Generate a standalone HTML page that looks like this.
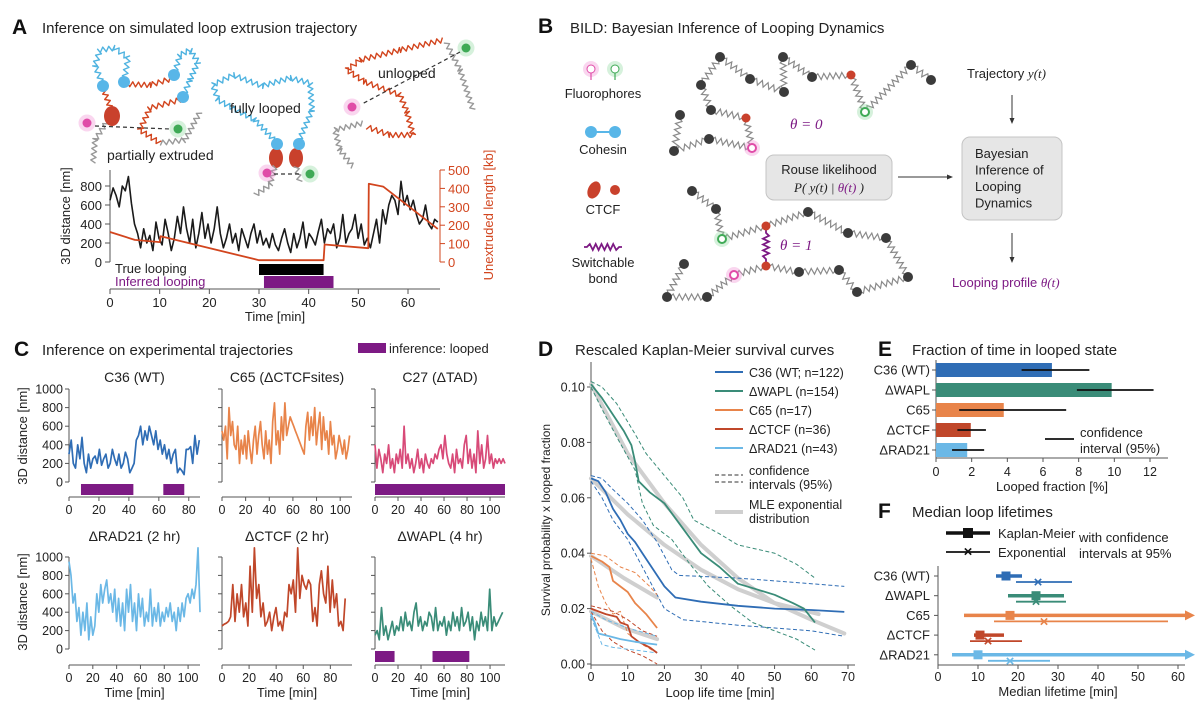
<!DOCTYPE html>
<html><head><meta charset="utf-8"><title>BILD figure</title>
<style>
html,body{margin:0;padding:0;background:#fff;}
svg{display:block;font-family:"Liberation Sans",Arial,sans-serif;}
</style></head>
<body>
<svg id="fig" width="1200" height="715" viewBox="0 0 1200 715" xmlns="http://www.w3.org/2000/svg">
<rect x="0" y="0" width="1200" height="715" fill="#fff"/>
</svg>
<script>
// ---------------- DATA ----------------
const aTmax = 66;
const aDist = [650,780,700,580,800,750,900,620,400,300,150,350,200,280,120,420,250,180,450,300,120,250,480,300,580,350,200,450,150,300,520,250,400,200,350,580,300,150,250,400,200,300,120,350,250,150,300,400,200,330,180,250,150,300,180,120,250,350,200,100,300,150,250,420,150,300,250,180,320,450,200,350,300,400,150,250,500,200,300,350,500,250,400,180,250,150,300,450,200,550,400,600,700,650,500,850,600,700,550,650,500,400,450,600,400,350,450,420];
const aUnextT = [0,5,10,10.2,30,43,43.2,52,52.1,55,66];
const aUnextV = [163,120,108,140,10,10,95,75,425,410,180];
const aTrueLoop = [30,43];
const aInferLoop = [31,45];
const aXTicks = [0,10,20,30,40,50,60];
const aYTicks = [0,200,400,600,800];
const aRTicks = [0,100,200,300,400,500];

const c36Vals = [300,450,200,150,400,250,480,200,100,300,150,250,280,200,350,180,250,300,150,200,350,250,180,300,150,200,320,250,100,150,200,450,500,600,400,550,450,600,500,400,550,350,450,300,400,250,350,200,300,350,100,150,120,80,350,350,380,200,500,300,450];
const c65Vals = [550,450,600,250,800,500,650,400,350,600,200,450,300,500,250,550,350,200,450,600,300,500,650,400,250,550,300,450,200,650,850,400,550,300,700,450,850,500,600,700,650,600,550,500,450,400,350,300,600,750,450,700,500,800,400,600,750,350,700,450,550,300,650,400,500,250,350,500,400,300,450,250,350,500];
const c27Vals = [400,150,350,250,100,300,200,400,150,250,100,300,200,350,150,600,200,300,150,250,100,200,350,150,250,100,300,200,150,250,200,300,250,350,400,250,500,300,200,150,300,100,350,200,250,150,400,500,200,350,150,300,100,550,200,400,150,250,500,200,300,150,250,200,250,200,250,200];
const rad21Vals = [950,800,500,600,300,450,150,400,200,500,100,350,150,250,600,400,700,500,650,750,500,600,400,650,300,550,250,500,200,650,400,700,300,500,200,600,350,550,250,400,300,650,250,450,300,500,250,400,300,450,350,500,300,400,200,450,300,500,350,550,600,500,650,550,700,1100,400];
const ctcfVals = [250,270,280,300,350,700,300,600,400,700,350,500,250,900,400,1100,550,700,350,500,250,300,400,200,350,450,250,300,200,400,350,700,600,750,400,1100,550,800,700,650,750,700,300,450,250,700,850,600,500,900,400,750,450,600,250,300,200,550];
const waplVals = [150,200,100,450,150,250,100,200,300,150,250,200,350,200,400,250,300,200,400,500,250,350,200,300,250,400,350,200,450,200,300,250,350,150,300,200,400,250,350,200,450,250,300,400,200,350,100,300,200,400,250,350,200,650,200,350,250,300,350,400];
const cDurations = [87, 108, 113, 110, 91, 111];
const c36Loops = [[8,43],[63,77]];
const c27Loops = [[0,113]];
const waplLoops = [[0,17],[50,82]];
const cYTicks = [0,200,400,600,800,1000];

const dC36 = [[0,0.067],[2,0.066],[4,0.062],[6,0.056],[8,0.052],[10,0.047],[12,0.044],[14,0.040],[16,0.036],[18,0.032],[20,0.028],[23,0.024],[30,0.0225],[40,0.021],[50,0.020],[60,0.0195],[69,0.0188]];
const dC36Up = [[0,0.068],[3,0.067],[6,0.063],[10,0.058],[14,0.052],[18,0.044],[22,0.034],[24,0.032],[40,0.031],[60,0.029],[69,0.028]];
const dC36Lo = [[0,0.066],[3,0.060],[6,0.052],[10,0.045],[14,0.035],[18,0.025],[20,0.020],[25,0.016],[40,0.014],[60,0.012],[69,0.010]];
const dWapl = [[0,0.101],[3,0.096],[6,0.090],[9,0.084],[11,0.079],[12,0.073],[13,0.066],[16,0.062],[20,0.058],[25,0.049],[30,0.040],[35,0.035],[40,0.029],[45,0.027],[50,0.025],[55,0.022],[58,0.020],[61,0.015]];
const dWaplUp = [[0,0.102],[3,0.100],[7,0.094],[12,0.083],[15,0.076],[20,0.068],[25,0.060],[28,0.052],[35,0.047],[40,0.043],[50,0.040],[56,0.036],[61,0.031]];
const dWaplLo = [[0,0.100],[3,0.092],[7,0.082],[12,0.070],[14,0.058],[17,0.050],[22,0.045],[27,0.036],[32,0.028],[38,0.021],[44,0.015],[50,0.012],[56,0.009],[61,0.005]];
const dC65 = [[0,0.039],[3,0.037],[5,0.035],[6,0.030],[10,0.026],[12,0.022],[15,0.018],[18,0.013]];
const dC65Up = [[0,0.040],[4,0.039],[8,0.035],[12,0.033],[16,0.028],[18,0.025]];
const dC65Lo = [[0,0.038],[2,0.028],[4,0.022],[6,0.018],[8,0.019],[10,0.011],[14,0.007],[18,0.004]];
const dCtcf = [[0,0.020],[2,0.019],[4,0.018],[7,0.017],[8,0.015],[10,0.014],[11,0.010],[13,0.008],[16,0.006],[18,0.004]];
const dCtcfUp = [[0,0.021],[6,0.019],[10,0.016],[14,0.012],[18,0.010]];
const dCtcfLo = [[0,0.019],[3,0.012],[6,0.008],[10,0.005],[14,0.003],[18,0.000]];
const dRad = [[0,0.018],[1,0.015],[2,0.011],[5,0.010],[8,0.009],[12,0.008],[18,0.007]];
const dRadUp = [[0,0.019],[4,0.016],[10,0.013],[18,0.010]];
const dRadLo = [[0,0.017],[3,0.007],[6,0.006],[12,0.005],[18,0.004]];
const dMleWapl = [[0,0.101],[10,0.076],[20,0.058],[30,0.043],[40,0.031],[50,0.022],[60,0.016],[69,0.011]];
const dMleC36 = [[0,0.067],[10,0.054],[20,0.043],[30,0.034],[40,0.027],[50,0.022],[62,0.018]];
const dMleC65 = [[0,0.039],[9,0.031],[18,0.024]];
const dMleSmall = [[0,0.019],[9,0.013],[18,0.009]];
const dXTicks = [0,10,20,30,40,50,60,70];
const dYTicks = [0,0.02,0.04,0.06,0.08,0.10];

const eCats = ['C36 (WT)','ΔWAPL','C65','ΔCTCF','ΔRAD21'];
const eVals = [6.5, 9.85, 3.8, 1.95, 1.75];
const eLo = [4.8, 7.9, 1.3, 1.2, 0.9];
const eHi = [8.6, 12.2, 7.3, 2.8, 2.7];
const eXTicks = [0,2,4,6,8,10,12];

const fCats = ['C36 (WT)','ΔWAPL','C65','ΔCTCF','ΔRAD21'];
const fKm = [17, 24.5, 18, 10.5, 10];
const fKmLo = [14.5, 17.5, 6.5, 9, 3.5];
const fKmHi = [21, 31.5, 64, 16.5, 64];
const fKmOpen = [false,false,true,false,true];
const fExp = [25, 24.5, 26.5, 12.5, 18];
const fExpLo = [19.5, 19.5, 14, 8, 12.5];
const fExpHi = [33.5, 32, 57.5, 21, 28];
const fXTicks = [0,10,20,30,40,50,60];

// ---------------- HELPERS ----------------
const NS = 'http://www.w3.org/2000/svg';
const svg = document.getElementById('fig');
const COL = {c36:'#2f6db5', wapl:'#3a8c78', c65:'#e8844a', ctcf:'#c0472a', rad:'#6bb8e6', c27:'#d84a78', purple:'#7d1a84', ax:'#555', red:'#d2451e'};
function mk(tag, attrs, parent) {
  const e = document.createElementNS(NS, tag);
  for (const k in attrs) e.setAttribute(k, attrs[k]);
  (parent || svg).appendChild(e);
  return e;
}
function named(e, name, inter) {
  
  
  return e;
}
function grp(name) { return named(mk('g', {}), name); }
function text(x, y, s, size, name, opts, parent) {
  const a = Object.assign({x:x, y:y, 'font-size':size, fill:'#222'}, opts || {});
  const e = mk('text', a, parent);
  e.textContent = s;
  return named(e, name);
}
function line(x1, y1, x2, y2, stroke, w, name, parent, extra) {
  const e = mk('line', Object.assign({x1:x1, y1:y1, x2:x2, y2:y2, stroke:stroke, 'stroke-width':w}, extra || {}), parent);
  return named(e, name);
}
function scale(d0, d1, p0, p1) { return v => p0 + (v - d0) / (d1 - d0) * (p1 - p0); }
function poly(pts, stroke, w, name, parent, extra) {
  const e = mk('polyline', Object.assign({points: pts.map(p => p[0].toFixed(1) + ',' + p[1].toFixed(1)).join(' '), fill:'none', stroke:stroke, 'stroke-width':w, 'stroke-linejoin':'round'}, extra || {}), parent);
  return named(e, name);
}
function dnaPath(pts, color, name, parent) {
  let d = '';
  let flip = 1;
  for (let i = 0; i < pts.length - 1; i++) {
    const [x1, y1] = pts[i], [x2, y2] = pts[i + 1];
    const L = Math.hypot(x2 - x1, y2 - y1);
    const n = Math.max(2, Math.round(L / 3));
    const nx = -(y2 - y1) / L, ny = (x2 - x1) / L;
    for (let k = 0; k <= n; k++) {
      const t = k / n;
      const x = x1 + (x2 - x1) * t + nx * 2.5 * flip, y = y1 + (y2 - y1) * t + ny * 2.5 * flip;
      d += (d ? 'L' : 'M') + x.toFixed(1) + ',' + y.toFixed(1);
      flip = -flip;
    }
  }
  const e = mk('path', {d:d, fill:'none', stroke:color, 'stroke-width':1.4, 'stroke-linejoin':'round'}, parent);
  return named(e, name);
}
function spring(x1, y1, x2, y2, color, name, parent, w) {
  const L = Math.hypot(x2 - x1, y2 - y1);
  const nx = -(y2 - y1) / L, ny = (x2 - x1) / L;
  const n = Math.max(6, Math.round(L / 3));
  let d = 'M' + x1 + ',' + y1;
  for (let k = 1; k < n; k++) {
    const t = k / n; const s = (k % 2 ? 1 : -1) * 3;
    const m = (k < 2 || k > n - 2) ? 0 : 1;
    d += 'L' + (x1 + (x2 - x1) * t + nx * s * m).toFixed(1) + ',' + (y1 + (y2 - y1) * t + ny * s * m).toFixed(1);
  }
  d += 'L' + x2 + ',' + y2;
  const e = mk('path', {d:d, fill:'none', stroke:color, 'stroke-width':w || 1.2}, parent);
  return named(e, name);
}
function bead(x, y, r, fill, name, parent, glow) {
  if (glow) {
    const g = mk('circle', {cx:x, cy:y, r:r + 4, fill:glow, opacity:0.35}, parent);
    
    
  }
  return named(mk('circle', {cx:x, cy:y, r:r, fill:fill}, parent), name);
}
function panelLetter(x, y, s) { return text(x, y, s, 21, 'panel-label-' + s.toLowerCase(), {'font-weight':'bold', fill:'#111'}); }

// ---------------- PANEL A ----------------
(function(){
  panelLetter(12, 34, 'A');
  text(42, 33, 'Inference on simulated loop extrusion trajectory', 15, 'panel-a-title');
  const g = grp('panel-a-cartoon');
  dnaPath([[103,86],[95,65],[100,50],[115,48],[128,58],[124,82]], '#4fb3e0', 'extruded-loop-left', g);
  dnaPath([[174,75],[180,55],[190,50],[198,62],[190,80],[183,97]], '#4fb3e0', 'extruded-loop-right', g);
  dnaPath([[124,84],[150,85],[174,78]], COL.red, 'unextruded-segment-top', g);
  dnaPath([[103,88],[112,112]], COL.red, 'unextruded-segment-left', g);
  dnaPath([[183,99],[150,108],[140,130],[160,143]], COL.red, 'unextruded-segment-right', g);
  dnaPath([[160,143],[185,140],[200,112]], '#999', 'flank-right', g);
  dnaPath([[108,120],[95,140],[93,163]], '#999', 'flank-left', g);
  mk('ellipse', {cx:112, cy:116, rx:8, ry:10, fill:'#c9412c'}, g);
  [[103,86],[124,82],[174,75],[183,97]].forEach(p => bead(p[0], p[1], 6, '#58b6e8', 'cohesin-bead', g));
  bead(87, 123, 4.5, '#e04ca8', 'fluorophore-pink', g, '#f08ad0');
  bead(178, 129, 4.5, '#3faa56', 'fluorophore-green', g, '#8ad89a');
  line(95, 126, 170, 129, '#333', 1.2, 'distance-arrow-left', g, {'stroke-dasharray':'4,3'});
  text(107, 160, 'partially extruded', 14, 'label-partially-extruded', {}, g);
  dnaPath([[277,143],[255,120],[218,100],[213,85],[233,75],[262,86],[290,78],[310,83],[312,110],[298,143]], '#4fb3e0', 'full-loop', g);
  mk('ellipse', {cx:276, cy:158, rx:7, ry:10, fill:'#c9412c'}, g);
  mk('ellipse', {cx:296, cy:158, rx:7, ry:10, fill:'#c9412c'}, g);
  bead(277, 144, 6, '#58b6e8', 'cohesin-bead', g);
  bead(299, 144, 6, '#58b6e8', 'cohesin-bead', g);
  dnaPath([[275,166],[270,185],[255,195]], '#999', 'flank-mid-left', g);
  dnaPath([[296,166],[300,182]], '#999', 'flank-mid-right', g);
  bead(267, 173, 4.5, '#e04ca8', 'fluorophore-pink', g, '#f08ad0');
  bead(310, 174, 4.5, '#3faa56', 'fluorophore-green', g, '#8ad89a');
  line(274, 174, 302, 174, '#333', 1.2, 'distance-arrow-mid', g, {'stroke-dasharray':'4,3'});
  text(230, 113, 'fully looped', 14, 'label-fully-looped', {}, g);
  dnaPath([[443,40],[400,50],[360,60],[347,70],[365,82],[400,95],[407,112],[413,135],[390,135],[367,127]], COL.red, 'unlooped-chain', g);
  dnaPath([[446,42],[460,70],[473,110]], '#999', 'flank-unlooped-right', g);
  dnaPath([[363,123],[335,130],[340,150],[353,167]], '#999', 'flank-unlooped-left', g);
  bead(466, 48, 4.5, '#3faa56', 'fluorophore-green', g, '#8ad89a');
  bead(352, 107, 4.5, '#e04ca8', 'fluorophore-pink', g, '#f08ad0');
  line(460, 52, 362, 104, '#333', 1.2, 'distance-arrow-right', g, {'stroke-dasharray':'4,3'});
  text(378, 78, 'unlooped', 14, 'label-unlooped', {}, g);

  const gp = grp('panel-a-plot');
  const x = scale(0, 60, 110, 408);
  const y = scale(0, 800, 262, 186);
  const yr = scale(0, 500, 262, 170);
  line(110, 170, 110, 262, COL.ax, 1, 'a-y-axis', gp);
  aYTicks.forEach(v => { line(105, y(v), 110, y(v), COL.ax, 1, 'a-y-tick', gp); text(102, y(v) + 5, String(v), 13, 'a-y-tick-label', {'text-anchor':'end'}, gp); });
  line(440, 170, 440, 262, COL.red, 1, 'a-right-axis', gp);
  aRTicks.forEach(v => { line(440, yr(v), 445, yr(v), COL.red, 1, 'a-right-tick', gp); text(448, yr(v) + 5, String(v), 13, 'a-right-tick-label', {fill:COL.red}, gp); });
  line(110, 289, 440, 289, COL.ax, 1, 'a-x-axis', gp);
  aXTicks.forEach(v => { line(x(v), 289, x(v), 294, COL.ax, 1, 'a-x-tick', gp); text(x(v), 307, String(v), 13, 'a-x-tick-label', {'text-anchor':'middle'}, gp); });
  text(275, 321, 'Time [min]', 13, 'a-x-axis-title', {'text-anchor':'middle'}, gp);
  text(70, 216, '3D distance [nm]', 13, 'a-y-axis-title', {'text-anchor':'middle', transform:'rotate(-90 70 216)'}, gp);
  text(493, 215, 'Unextruded length [kb]', 13, 'a-right-axis-title', {'text-anchor':'middle', fill:COL.red, transform:'rotate(-90 493 215)'}, gp);
  poly(aDist.map((v, i) => [x(i * aTmax / (aDist.length - 1)), y(v)]), '#1a1a1a', 1.6, 'a-distance-trace', gp);
  poly(aUnextT.map((t, i) => [x(t), yr(aUnextV[i])]), COL.red, 1.8, 'a-unextruded-line', gp);
  named(mk('rect', {x:x(aTrueLoop[0]), y:264, width:x(aTrueLoop[1]) - x(aTrueLoop[0]), height:11, fill:'#000'}, gp), 'true-looping-bar');
  named(mk('rect', {x:x(aInferLoop[0]), y:276, width:x(aInferLoop[1]) - x(aInferLoop[0]), height:12, fill:COL.purple}, gp), 'inferred-looping-bar');
  text(115, 273, 'True looping', 13, 'true-looping-label', {}, gp);
  text(115, 286, 'Inferred looping', 13, 'inferred-looping-label', {fill:COL.purple}, gp);
})();

// ---------------- PANEL B ----------------
(function(){
  panelLetter(538, 33, 'B');
  text(570, 33, 'BILD: Bayesian Inference of Looping Dynamics', 15, 'panel-b-title');
  const g = grp('panel-b-legend');
  bead(591, 69, 4, '#fff', 'legend-fluor-pink', g, '#f08ad0').setAttribute('stroke', '#e04ca8');
  line(591, 73, 591, 80, '#e04ca8', 1.2, 'legend-fluor-pink-stem', g);
  bead(615, 69, 4, '#fff', 'legend-fluor-green', g, '#8ad89a').setAttribute('stroke', '#3faa56');
  line(615, 73, 615, 80, '#3faa56', 1.2, 'legend-fluor-green-stem', g);
  text(603, 98, 'Fluorophores', 13, 'legend-fluorophores-label', {'text-anchor':'middle'}, g);
  line(591, 132, 615, 132, '#58b6e8', 2, 'legend-cohesin-link', g);
  bead(591, 132, 6, '#58b6e8', 'legend-cohesin-bead', g);
  bead(615, 132, 6, '#58b6e8', 'legend-cohesin-bead', g);
  text(603, 154, 'Cohesin', 13, 'legend-cohesin-label', {'text-anchor':'middle'}, g);
  named(mk('ellipse', {cx:594, cy:190, rx:6, ry:9, fill:'#c9412c', transform:'rotate(25 594 190)'}, g), 'legend-ctcf-large');
  bead(615, 190, 5, '#c9412c', 'legend-ctcf-small', g);
  text(603, 214, 'CTCF', 13, 'legend-ctcf-label', {'text-anchor':'middle'}, g);
  spring(584, 247, 622, 247, COL.purple, 'legend-switchable-bond', g, 1.8);
  text(603, 267, 'Switchable', 13, 'legend-switchable-label', {'text-anchor':'middle'}, g);
  text(603, 283, 'bond', 13, 'legend-bond-label', {'text-anchor':'middle'}, g);

  const gc = grp('panel-b-polymers');
  const top = [[680,115,'k'],[674,151,'k'],[709,139,'k'],[752,148,'p'],[746,118,'r'],[711,110,'k'],[701,85,'k'],[720,57,'k'],[750,79,'k'],[784,92,'k'],[783,57,'k'],[812,77,'k'],[851,75,'r'],[865,112,'g'],[911,65,'k'],[931,80,'k']];
  const bot = [[692,191,'k'],[716,209,'k'],[722,239,'g'],[766,226,'r'],[808,212,'k'],[848,233,'k'],[886,238,'k'],[908,277,'k'],[857,292,'k'],[839,270,'k'],[799,272,'k'],[766,266,'r'],[734,275,'p'],[707,297,'k'],[667,297,'k'],[684,264,'k']];
  [top, bot].forEach(ch => {
    for (let i = 0; i < ch.length - 1; i++) spring(ch[i][0], ch[i][1], ch[i+1][0], ch[i+1][1], '#8a8a8a', 'polymer-spring', gc);
  });
  spring(766, 230, 766, 262, COL.purple, 'switchable-bond-closed', gc, 1.8);
  [top, bot].forEach(ch => ch.forEach(b => {
    if (b[2] === 'k') bead(b[0], b[1], 5, '#3b3b3b', 'polymer-bead', gc);
    else if (b[2] === 'r') bead(b[0], b[1], 4.5, '#c9412c', 'ctcf-bead', gc);
    else if (b[2] === 'g') { const e = bead(b[0], b[1], 4, '#fff', 'green-fluor-bead', gc, '#8ad89a'); e.setAttribute('stroke', '#3faa56'); e.setAttribute('stroke-width', 2); }
    else { const e = bead(b[0], b[1], 4, '#fff', 'pink-fluor-bead', gc, '#f08ad0'); e.setAttribute('stroke', '#e04ca8'); e.setAttribute('stroke-width', 2); }
  }));
  text(790, 129, 'θ = 0', 15, 'theta-zero-label', {fill:COL.purple, 'font-family':'"Liberation Serif",serif', 'font-style':'italic'});
  text(780, 250, 'θ = 1', 15, 'theta-one-label', {fill:COL.purple, 'font-family':'"Liberation Serif",serif', 'font-style':'italic'});

  const gf = grp('panel-b-flow');
  named(mk('rect', {x:766, y:155, width:126, height:45, rx:8, fill:'#e6e6e6', stroke:'#c4c4c4'}, gf), 'rouse-likelihood-box');
  text(829, 174, 'Rouse likelihood', 13, 'rouse-likelihood-label', {'text-anchor':'middle'}, gf);
  const p = text(829, 192, '', 13, 'rouse-likelihood-formula', {'text-anchor':'middle', 'font-family':'"Liberation Serif",serif', 'font-style':'italic'}, gf);
  p.innerHTML = 'P( y(t) | <tspan fill="#7d1a84">θ(t)</tspan> )';
  line(898, 177, 951, 177, '#333', 1, 'arrow-to-bayesian', gf);
  named(mk('path', {d:'M953,177 L947,174.5 L947,179.5 Z', fill:'#333'}, gf), 'arrow-head');
  named(mk('rect', {x:962, y:137, width:100, height:83, rx:8, fill:'#e6e6e6', stroke:'#c4c4c4'}, gf), 'bayesian-inference-box');
  ['Bayesian','Inference of','Looping','Dynamics'].forEach((s, i) => text(975, 158 + i * 16.5, s, 13, 'bayesian-box-line', {}, gf));
  const tr = text(967, 78, 'Trajectory ', 13, 'trajectory-label', {}, gf);
  const ts = mk('tspan', {'font-family':'"Liberation Serif",serif', 'font-style':'italic'}, tr); ts.textContent = 'y(t)';
  line(1012, 95, 1012, 121, '#333', 1, 'arrow-trajectory-down', gf);
  named(mk('path', {d:'M1012,124 L1009.5,118 L1014.5,118 Z', fill:'#333'}, gf), 'arrow-head');
  line(1012, 233, 1012, 260, '#333', 1, 'arrow-profile-down', gf);
  named(mk('path', {d:'M1012,263 L1009.5,257 L1014.5,257 Z', fill:'#333'}, gf), 'arrow-head');
  const lp = text(952, 287, 'Looping profile ', 13, 'looping-profile-label', {fill:COL.purple}, gf);
  const lt = mk('tspan', {'font-family':'"Liberation Serif",serif', 'font-style':'italic'}, lp); lt.textContent = 'θ(t)';
})();

// ---------------- PANEL C ----------------
(function(){
  panelLetter(14, 356, 'C');
  text(42, 355, 'Inference on experimental trajectories', 15, 'panel-c-title');
  named(mk('rect', {x:358, y:343, width:28, height:10, fill:COL.purple}, svg), 'legend-inference-looped-swatch');
  text(389, 353, 'inference: looped', 13, 'legend-inference-looped-label');
  const panels = [
    {name:'C36 (WT)', vals:c36Vals, dur:cDurations[0], color:COL.c36, loops:c36Loops, x0:69, xEnd:87.5, x1:200, row:0, ticks:[0,20,40,60,80], labels:true},
    {name:'C65 (ΔCTCFsites)', vals:c65Vals, dur:cDurations[1], color:COL.c65, loops:[], x0:222, xEnd:110, x1:352, row:0, ticks:[0,20,40,60,80,100], labels:false},
    {name:'C27 (ΔTAD)', vals:c27Vals, dur:cDurations[2], color:COL.c27, loops:c27Loops, x0:375, xEnd:113, x1:505, row:0, ticks:[0,20,40,60,80,100], labels:false},
    {name:'ΔRAD21 (2 hr)', vals:rad21Vals, dur:cDurations[3], color:COL.rad, loops:[], x0:69, xEnd:110, x1:200, row:1, ticks:[0,20,40,60,80,100], labels:true},
    {name:'ΔCTCF (2 hr)', vals:ctcfVals, dur:cDurations[4], color:COL.ctcf, loops:[], x0:222, xEnd:96, x1:352, row:1, ticks:[0,20,40,60,80], labels:false},
    {name:'ΔWAPL (4 hr)', vals:waplVals, dur:cDurations[5], color:COL.wapl, loops:waplLoops, x0:375, xEnd:113, x1:505, row:1, ticks:[0,20,40,60,80,100], labels:false}
  ];
  const rows = [{y0:482, y1:389, axisY:497, barY:484, title:382}, {y0:649, y1:557, axisY:665, barY:651, title:541}];
  panels.forEach((p, pi) => {
    const g = grp('trajectory-panel-' + (pi + 1));
    const r = rows[p.row];
    const x = scale(0, p.xEnd, p.x0, p.x1);
    const y = scale(0, 1000, r.y0, r.y1);
    text((p.x0 + p.x1) / 2, r.title, p.name, 14, 'trajectory-panel-title', {'text-anchor':'middle'}, g);
    line(p.x0, r.y1, p.x0, r.y0, COL.ax, 1, 'c-y-axis', g);
    cYTicks.forEach(v => {
      line(p.x0 - 4, y(v), p.x0, y(v), COL.ax, 1, 'c-y-tick', g);
      if (p.labels) text(p.x0 - 6, y(v) + 4.5, String(v), 12.5, 'c-y-tick-label', {'text-anchor':'end'}, g);
    });
    line(p.x0, r.axisY, p.x1, r.axisY, COL.ax, 1, 'c-x-axis', g);
    p.ticks.forEach(v => {
      line(x(v), r.axisY, x(v), r.axisY + 4, COL.ax, 1, 'c-x-tick', g);
      text(x(v), r.axisY + 17, String(v), 12.5, 'c-x-tick-label', {'text-anchor':'middle'}, g);
    });
    poly(p.vals.map((v, i) => [x(i * p.dur / (p.vals.length - 1)), y(v)]), p.color, 1.7, 'trajectory-line', g);
    p.loops.forEach(l => named(mk('rect', {x:x(l[0]), y:r.barY, width:x(l[1]) - x(l[0]), height:11, fill:COL.purple}, g), 'inferred-loop-bar'));
    if (p.row === 1) text((p.x0 + p.x1) / 2, 697, 'Time [min]', 13, 'c-x-axis-title', {'text-anchor':'middle'}, g);
  });
  text(27, 436, '3D distance [nm]', 13, 'c-y-axis-title-top', {'text-anchor':'middle', transform:'rotate(-90 27 436)'});
  text(27, 602, '3D distance [nm]', 13, 'c-y-axis-title-bottom', {'text-anchor':'middle', transform:'rotate(-90 27 602)'});
})();

// ---------------- PANEL D ----------------
(function(){
  panelLetter(538, 356, 'D');
  text(575, 355, 'Rescaled Kaplan-Meier survival curves', 15, 'panel-d-title');
  const g = grp('panel-d-plot');
  const x = scale(0, 70, 591, 848);
  const y = scale(0, 0.10, 664, 387);
  line(591, 362, 591, 665, COL.ax, 1, 'd-y-axis', g);
  line(591, 665, 855, 665, COL.ax, 1, 'd-x-axis', g);
  dYTicks.forEach(v => { line(587, y(v), 591, y(v), COL.ax, 1, 'd-y-tick', g); text(585, y(v) + 4.5, v.toFixed(2), 12.5, 'd-y-tick-label', {'text-anchor':'end'}, g); });
  dXTicks.forEach(v => { line(x(v), 665, x(v), 669, COL.ax, 1, 'd-x-tick', g); text(x(v), 681, String(v), 12.5, 'd-x-tick-label', {'text-anchor':'middle'}, g); });
  text(720, 697, 'Loop life time [min]', 13, 'd-x-axis-title', {'text-anchor':'middle'}, g);
  text(550, 520, 'Survival probability  x  looped fraction', 12, 'd-y-axis-title', {'text-anchor':'middle', transform:'rotate(-90 550 520)'}, g);
  const P = arr => arr.map(d => [x(d[0]), y(d[1])]);
  [dMleWapl, dMleC36, dMleC65, dMleSmall].forEach(a => poly(P(a), '#cfcfcf', 4, 'mle-exponential-curve', g, {'stroke-linecap':'round'}));
  const series = [
    [dC36, dC36Up, dC36Lo, COL.c36, 'c36'], [dWapl, dWaplUp, dWaplLo, COL.wapl, 'wapl'],
    [dC65, dC65Up, dC65Lo, COL.c65, 'c65'], [dCtcf, dCtcfUp, dCtcfLo, COL.ctcf, 'ctcf'], [dRad, dRadUp, dRadLo, COL.rad, 'rad21']];
  series.forEach(s => {
    poly(P(s[1]), s[3], 1, 'ci-upper-' + s[4], g, {'stroke-dasharray':'4,2.5'});
    poly(P(s[2]), s[3], 1, 'ci-lower-' + s[4], g, {'stroke-dasharray':'4,2.5'});
  });
  series.forEach(s => poly(P(s[0]), s[3], 1.8, 'survival-curve-' + s[4], g));
  const lg = grp('panel-d-legend');
  const entries = [['C36 (WT; n=122)', COL.c36, 372], ['ΔWAPL (n=154)', COL.wapl, 391], ['C65 (n=17)', COL.c65, 410], ['ΔCTCF (n=36)', COL.ctcf, 429], ['ΔRAD21 (n=43)', COL.rad, 448]];
  entries.forEach(e => { line(715, e[2], 743, e[2], e[1], 2, 'legend-line', lg); text(749, e[2] + 5, e[0], 12.5, 'legend-label', {}, lg); });
  line(715, 475, 743, 475, '#333', 1, 'legend-ci-line', lg, {'stroke-dasharray':'4,2.5'});
  line(715, 482, 743, 482, '#333', 1, 'legend-ci-line', lg, {'stroke-dasharray':'4,2.5'});
  text(749, 475, 'confidence', 12.5, 'legend-ci-label', {}, lg);
  text(749, 489, 'intervals (95%)', 12.5, 'legend-ci-label', {}, lg);
  line(715, 512, 743, 512, '#cfcfcf', 4, 'legend-mle-line', lg);
  text(749, 509, 'MLE exponential', 12.5, 'legend-mle-label', {}, lg);
  text(749, 523, 'distribution', 12.5, 'legend-mle-label', {}, lg);
})();

// ---------------- PANEL E ----------------
(function(){
  panelLetter(878, 356, 'E');
  text(912, 355, 'Fraction of time in looped state', 15, 'panel-e-title');
  const g = grp('panel-e-plot');
  const x = scale(0, 12, 936, 1150);
  const cols = [COL.c36, COL.wapl, COL.c65, COL.ctcf, COL.rad];
  line(936, 360, 936, 458, COL.ax, 1, 'e-y-axis', g);
  line(936, 458, 1168, 458, COL.ax, 1, 'e-x-axis', g);
  eXTicks.forEach(v => { line(x(v), 458, x(v), 462, COL.ax, 1, 'e-x-tick', g); text(x(v), 476, String(v), 12.5, 'e-x-tick-label', {'text-anchor':'middle'}, g); });
  text(1052, 491, 'Looped fraction [%]', 13, 'e-x-axis-title', {'text-anchor':'middle'}, g);
  eCats.forEach((c, i) => {
    const cy = 370 + i * 20;
    named(mk('rect', {x:936, y:cy - 7, width:x(eVals[i]) - 936, height:14, fill:cols[i]}, g), 'bar-' + i);
    line(x(eLo[i]), cy, x(eHi[i]), cy, '#111', 1.8, 'error-bar', g);
    line(932, cy, 936, cy, COL.ax, 1, 'e-y-tick', g);
    text(930, cy + 4.5, c, 13, 'e-category-label', {'text-anchor':'end'}, g);
  });
  line(1045, 439, 1074, 439, '#111', 1.8, 'legend-ci-line', g);
  text(1080, 437, 'confidence', 13, 'legend-ci-label', {}, g);
  text(1080, 453, 'interval (95%)', 13, 'legend-ci-label', {}, g);
})();

// ---------------- PANEL F ----------------
(function(){
  panelLetter(878, 518, 'F');
  text(912, 517, 'Median loop lifetimes', 15, 'panel-f-title');
  const g = grp('panel-f-plot');
  const x = scale(0, 60, 938, 1178);
  const cols = [COL.c36, COL.wapl, COL.c65, COL.ctcf, COL.rad];
  line(946, 533, 990, 533, '#111', 3.5, 'legend-km-line', g);
  named(mk('rect', {x:963, y:528, width:10, height:10, fill:'#111'}, g), 'legend-km-marker');
  text(998, 538, 'Kaplan-Meier', 13, 'legend-km-label', {}, g);
  line(946, 552, 990, 552, '#111', 1.8, 'legend-exp-line', g);
  text(968, 556.5, '×', 15, 'legend-exp-marker', {'text-anchor':'middle', 'font-weight':'bold', fill:'#111'}, g);
  text(998, 557, 'Exponential', 13, 'legend-exp-label', {}, g);
  text(1079, 542, 'with confidence', 13, 'legend-ci-note', {}, g);
  text(1079, 558, 'intervals at 95%', 13, 'legend-ci-note', {}, g);
  line(938, 566, 938, 665, COL.ax, 1, 'f-y-axis', g);
  line(938, 665, 1185, 665, COL.ax, 1, 'f-x-axis', g);
  fXTicks.forEach(v => { line(x(v), 665, x(v), 669, COL.ax, 1, 'f-x-tick', g); text(x(v), 681, String(v), 12.5, 'f-x-tick-label', {'text-anchor':'middle'}, g); });
  text(1058, 696, 'Median lifetime [min]', 13, 'f-x-axis-title', {'text-anchor':'middle'}, g);
  fCats.forEach((c, i) => {
    const yk = 576 + i * 19.7, ye = yk + 6;
    line(934, yk, 938, yk, COL.ax, 1, 'f-y-tick', g);
    text(930, yk + 4.5, c, 13, 'f-category-label', {'text-anchor':'end'}, g);
    const hi = fKmOpen[i] ? Math.min(fKmHi[i], 62) : fKmHi[i];
    line(x(fKmLo[i]), yk, x(hi), yk, cols[i], 3.5, 'km-ci-' + i, g);
    if (fKmOpen[i]) named(mk('path', {d:`M${x(hi)+9},${yk} L${x(hi)-1},${yk-5} L${x(hi)-1},${yk+5} Z`, fill:cols[i]}, g), 'km-ci-open-arrow');
    named(mk('rect', {x:x(fKm[i]) - 4.5, y:yk - 4.5, width:9, height:9, fill:cols[i]}, g), 'km-median-marker');
    line(x(fExpLo[i]), ye, x(fExpHi[i]), ye, cols[i], 1.8, 'exp-ci-' + i, g);
    text(x(fExp[i]), ye + 5, '×', 15, 'exp-median-marker', {'text-anchor':'middle', 'font-weight':'bold', fill:cols[i]}, g);
  });
})();
</script>
</body></html>
